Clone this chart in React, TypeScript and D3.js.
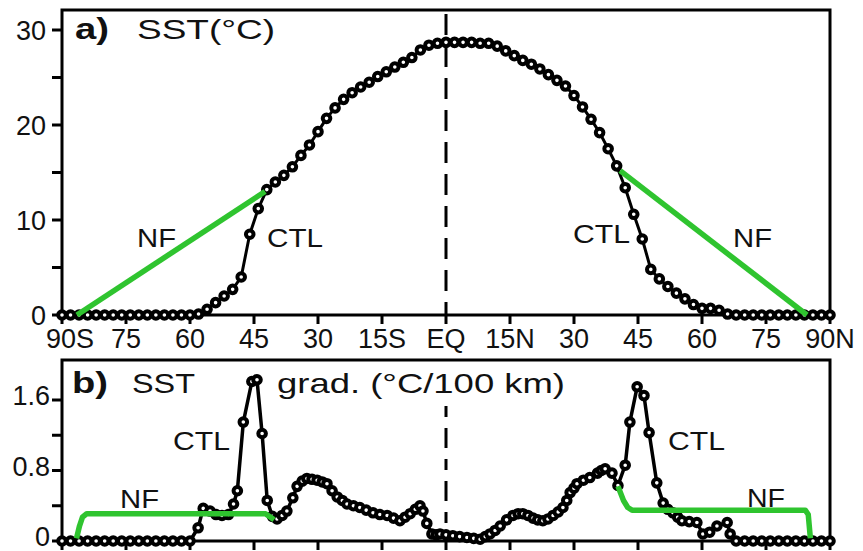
import React from "react";
import * as d3 from "d3";

const W = 863;
const H = 551;
const FONT = "'Liberation Sans', Arial, Helvetica, sans-serif";
const GREEN = "#2fc42f";

// ---- Panel a: zonal-mean SST (°C) ----
const sstLat = [
  -90, -88, -86, -84, -82, -80, -78, -76, -74, -72, -70, -68, -66, -64, -62, -60,
  -58, -56, -54, -52, -50, -48, -46, -44, -42, -40, -38, -36, -34, -32, -30, -28,
  -26, -24, -22, -20, -18, -16, -14, -12, -10, -8, -6, -4, -2, 0, 2, 4, 6, 8, 10,
  12, 14, 16, 18, 20, 22, 24, 26, 28, 30, 32, 34, 36, 38, 40, 42, 44, 46, 48, 50,
  52, 54, 56, 58, 60, 62, 64, 66, 68, 70, 72, 74, 76, 78, 80, 82, 84, 86, 88, 90,
];
const sstCtl = [
  0, 0, 0, 0, 0, 0, 0, 0, 0, 0, 0, 0, 0, 0, 0, 0,
  0.1, 0.6, 1.3, 2.0, 2.7, 4.0, 8.5, 11.2, 13.2, 14.0, 14.7, 15.6, 16.8, 17.9, 19.3, 20.7,
  21.8, 22.7, 23.4, 24.0, 24.5, 25.1, 25.6, 26.1, 26.6, 27.1, 27.9, 28.4, 28.6, 28.7, 28.7, 28.7, 28.7, 28.6, 28.6,
  28.3, 27.8, 27.3, 26.8, 26.4, 25.9, 25.3, 24.7, 24.1, 23.1, 21.9, 20.6, 19.2, 17.5, 15.7, 13.4, 10.6, 8.0, 4.8, 3.8,
  3.0, 2.3, 1.7, 1.1, 0.7, 0.7, 0.5, 0.1, 0, 0, 0, 0, 0, 0, 0, 0, 0, 0, 0, 0,
];
// NF: linear SST poleward of the midlatitude fronts
const sstNfSouthLat = [-86.5, -42.4];
const sstNfSouth = [0, 13.0];
const sstNfNorthLat = [40.8, 84.6];
const sstNfNorth = [15.2, 0];

// ---- Panel b: SST gradient (°C/100 km) ----
const gradLat = [
  -90, -88, -86, -84, -82, -80, -78, -76, -74, -72, -70, -68, -66, -64, -62, -60,
  -58.1, -56.9, -55.3, -53.9, -52.5, -51, -49.8, -48.9, -47.5, -45.5, -44.3, -43.1, -41.9,
  -40.7, -39.6, -38.4, -37.3, -35.9, -34.9, -33.7, -32.6, -31.4, -30.2, -29, -27.9,
  -26.7, -25.5, -24.3, -23.2, -21.7, -20.2, -18.7, -17.1, -15.5, -13.8, -12.3, -10.8,
  -9.6, -8.4, -7.2, -6.1, -5.4, -4.5, -3.3, -2.3, -1.4, 0, 1.6, 3.2, 4.9, 6.5, 8,
  9.2, 10.3, 11.5, 12.7, 14.2, 15.7, 16.9, 18, 19.2, 20.4, 21.5, 22.7, 23.9, 25.1,
  26.3, 27.4, 28.3, 29.1, 30, 30.7, 32.2, 33.7, 35.5, 36.4, 37.3, 38.9, 40.3, 42,
  43.1, 44.8, 46.4, 47.6, 49.4, 50.9, 52, 53.2, 54.3, 55.3, 57, 58.8, 60.2, 61.8,
  63.5, 65.9, 66.6, 68, 70, 72, 74, 76, 78, 80, 82, 84, 86, 88, 90,
];
const gradCtl = [
  0, 0, 0, 0, 0, 0, 0, 0, 0, 0, 0, 0, 0, 0, 0, 0,
  0.15, 0.37, 0.34, 0.3, 0.29, 0.3, 0.42, 0.57, 1.35, 1.81, 1.83, 1.22, 0.46,
  0.28, 0.25, 0.29, 0.34, 0.49, 0.62, 0.68, 0.71, 0.7, 0.69, 0.67, 0.65,
  0.57, 0.5, 0.46, 0.42, 0.4, 0.38, 0.35, 0.32, 0.3, 0.29, 0.26, 0.23,
  0.27, 0.31, 0.36, 0.4, 0.34, 0.2, 0.08, 0.07, 0.08, 0.07, 0.06, 0.05, 0.04, 0.03, 0.02,
  0.05, 0.08, 0.12, 0.17, 0.24, 0.29, 0.31, 0.31, 0.29, 0.26, 0.24, 0.23, 0.25, 0.29,
  0.33, 0.38, 0.46, 0.55, 0.6, 0.65, 0.69, 0.72, 0.77, 0.8, 0.82, 0.77, 0.63, 0.86,
  1.35, 1.75, 1.65, 1.23, 0.66, 0.43, 0.36, 0.32, 0.27, 0.23, 0.22, 0.21, 0.08, 0.1,
  0.17, 0.21, 0.08, 0, 0, 0, 0, 0, 0, 0, 0, 0, 0, 0, 0,
];
const gradNfSouthLat = [-86.6, -85.9, -85.2, -84.2, -42.3, -40.3];
const gradNfSouth = [0.03, 0.17, 0.27, 0.31, 0.31, 0.24];
const gradNfNorthLat = [40.3, 41.6, 42.6, 43.6, 84.2, 84.9, 85.4];
const gradNfNorth = [0.62, 0.46, 0.38, 0.35, 0.35, 0.3, 0.03];

// ---- Axes ----
const latTicks = [-90, -75, -60, -45, -30, -15, 0, 15, 30, 45, 60, 75, 90];
const latTickLabels = ["90S", "75", "60", "45", "30", "15S", "EQ", "15N", "30", "45", "60", "75", "90N"];
const sstTicks = [0, 5, 10, 15, 20, 25, 30];
const sstTickLabels = ["0", "", "10", "", "20", "", "30"];
const gradTicks = [0, 0.4, 0.8, 1.2, 1.6];
const gradTickLabels = ["0", "", "0.8", "", "1.6"];

const LEFT = 62;
const RIGHT = 830;
const A_TOP = 10;
const A_BOTTOM = 315;
const B_TOP = 360;
const B_BOTTOM = 541;

const x = d3.scaleLinear().domain([-90, 90]).range([LEFT, RIGHT]);
const yA = d3.scaleLinear().domain([0, 30]).range([A_BOTTOM, 30]);
const yB = d3.scaleLinear().domain([0, 1.6]).range([B_BOTTOM, 400]);

function pairs(lat: number[], v: number[]): [number, number][] {
  return lat.map((l, i) => [l, v[i]] as [number, number]);
}

function Series({ lat, vals, y, color, width, markers }: {
  lat: number[]; vals: number[]; y: d3.ScaleLinear<number, number>;
  color: string; width: number; markers?: boolean;
}) {
  const line = d3.line<[number, number]>().x((d) => x(d[0])).y((d) => y(d[1]));
  const pts = pairs(lat, vals);
  return (
    <g>
      <path d={line(pts) || ""} fill="none" stroke={color} strokeWidth={width}
        strokeLinejoin="round" strokeLinecap="butt" />
      {markers && pts.map((p, i) => (
        <circle key={i} cx={x(p[0])} cy={y(p[1])} r={3.8} fill="#fff" stroke="#000" strokeWidth={4} />
      ))}
    </g>
  );
}

function Label({ x0, y0, w, size, text, bold }: {
  x0: number; y0: number; w: number; size: number; text: string; bold?: boolean;
}) {
  return (
    <text x={x0} y={y0} fontSize={size} fontWeight={bold ? "bold" : "normal"}
      textLength={w} lengthAdjust="spacingAndGlyphs" fill="#111">{text}</text>
  );
}

function Frame({ top, bottom, yScale, ticks, labels, labelX, labelDy }: {
  top: number; bottom: number; yScale: d3.ScaleLinear<number, number>;
  ticks: number[]; labels: string[]; labelX: number; labelDy: number;
}) {
  return (
    <g>
      <rect x={LEFT} y={top} width={RIGHT - LEFT} height={bottom - top}
        fill="none" stroke="#000" strokeWidth={3} />
      {latTicks.map((t) => (
        <line key={"x" + t} x1={x(t)} x2={x(t)} y1={bottom} y2={bottom + 9} stroke="#000" strokeWidth={3} />
      ))}
      {ticks.map((t, i) => (
        <g key={"y" + t}>
          <line x1={LEFT - 10} x2={LEFT} y1={yScale(t)} y2={yScale(t)} stroke="#000" strokeWidth={3} />
          {labels[i] && (
            <text x={labelX} y={yScale(t) + labelDy} fontSize={27} textAnchor="end" fill="#111">{labels[i]}</text>
          )}
        </g>
      ))}
    </g>
  );
}

export default function App() {
  return (
    <svg width={W} height={H} viewBox={`0 0 ${W} ${H}`}
      style={{ position: "absolute", left: 0, top: 0, background: "#fff", fontFamily: FONT }}>
      <rect width={W} height={H} fill="#fff" />

      {/* Panel a */}
      <Frame top={A_TOP} bottom={A_BOTTOM} yScale={yA} ticks={sstTicks} labels={sstTickLabels}
        labelX={46} labelDy={10} />
      {latTicks.map((t, i) => (
        <text key={"lx" + t} x={x(t) + (t === -90 ? 8 : 0)} y={348} fontSize={27}
          textAnchor="middle" fill="#111">{latTickLabels[i]}</text>
      ))}
      <line x1={x(0)} x2={x(0)} y1={14} y2={A_BOTTOM} stroke="#000" strokeWidth={3} strokeDasharray="21 11" />
      <Series lat={sstLat} vals={sstCtl} y={yA} color="#000" width={3} markers />
      <Series lat={sstNfSouthLat} vals={sstNfSouth} y={yA} color={GREEN} width={5.5} />
      <Series lat={sstNfNorthLat} vals={sstNfNorth} y={yA} color={GREEN} width={5.5} />
      <Label x0={75} y0={39} w={34} size={30} text="a)" bold />
      <Label x0={137} y0={39} w={138} size={28} text="SST(°C)" />
      <Label x0={137} y0={247} w={39} size={25} text="NF" />
      <Label x0={267} y0={247} w={56} size={25} text="CTL" />
      <Label x0={573} y0={243} w={57} size={25} text="CTL" />
      <Label x0={733} y0={247} w={39} size={25} text="NF" />

      {/* Panel b */}
      <Frame top={B_TOP} bottom={B_BOTTOM} yScale={yB} ticks={gradTicks} labels={gradTickLabels}
        labelX={50} labelDy={5} />
      <line x1={x(0)} x2={x(0)} y1={406} y2={B_BOTTOM} stroke="#000" strokeWidth={3} strokeDasharray="11 11 20 11" />
      <Series lat={gradLat} vals={gradCtl} y={yB} color="#000" width={3.5} markers />
      <Series lat={gradNfSouthLat} vals={gradNfSouth} y={yB} color={GREEN} width={5.5} />
      <Series lat={gradNfNorthLat} vals={gradNfNorth} y={yB} color={GREEN} width={5.5} />
      <Label x0={72} y0={393} w={36} size={30} text="b)" bold />
      <Label x0={132} y0={393} w={63} size={28} text="SST" />
      <Label x0={277} y0={393} w={288} size={28} text="grad. (°C/100 km)" />
      <Label x0={173} y0={450} w={57} size={25} text="CTL" />
      <Label x0={120} y0={508} w={39} size={25} text="NF" />
      <Label x0={668} y0={450} w={57} size={25} text="CTL" />
      <Label x0={747} y0={507} w={38} size={25} text="NF" />
    </svg>
  );
}
